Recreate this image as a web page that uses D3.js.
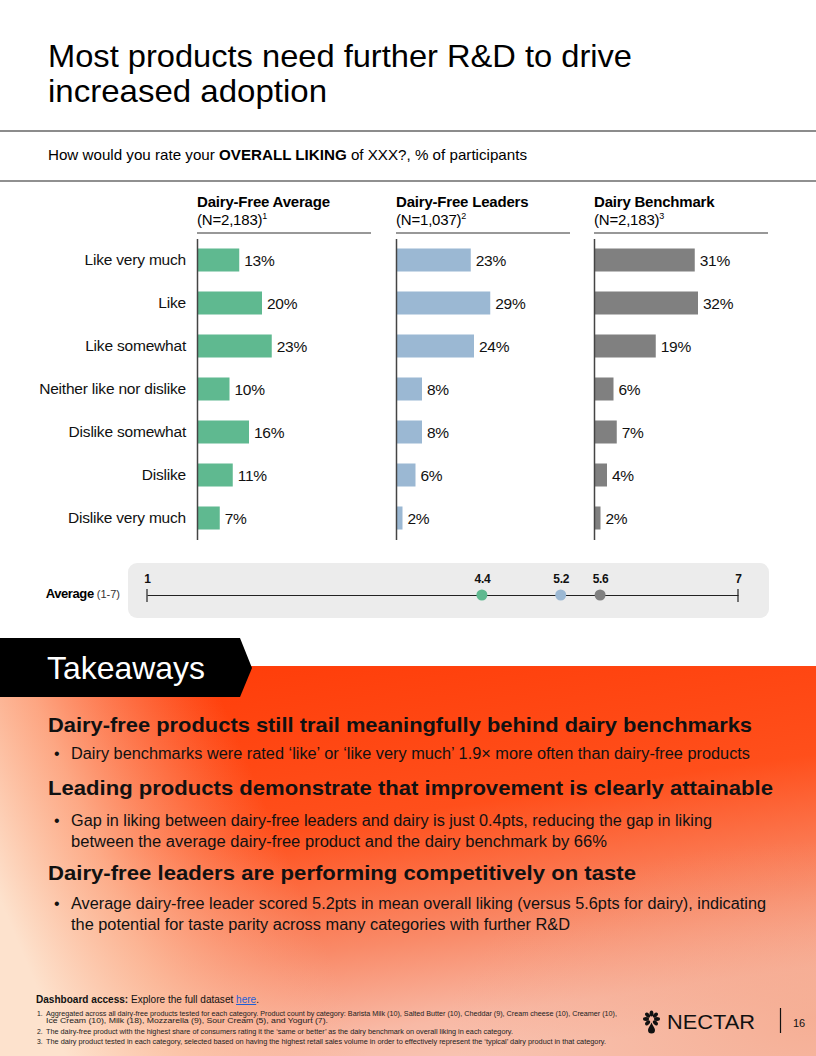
<!DOCTYPE html>
<html>
<head>
<meta charset="utf-8">
<script src="https://cdn.jsdelivr.net/npm/d3@7"></script>
<style>
  body { margin: 0; background: #fff; }
  text { font-family: "Liberation Sans", Arial, sans-serif; }
</style>
</head>
<body>
<div id="vizArea"></div>
<script>
// data
const categories = ["Like very much", "Like", "Like somewhat", "Neither like nor dislike", "Dislike somewhat", "Dislike", "Dislike very much"];
const dairyFreeAverage = [13, 20, 23, 10, 16, 11, 7];
const dairyFreeLeaders = [23, 29, 24, 8, 8, 6, 2];
const dairyBenchmark = [31, 32, 19, 6, 7, 4, 2];
const panelNames = ["Dairy-Free Average", "Dairy-Free Leaders", "Dairy Benchmark"];
const panelSizes = ["(N=2,183)", "(N=1,037)", "(N=2,183)"];
const panelNotes = ["1", "2", "3"];
const averageScores = [4.4, 5.2, 5.6];
const scaleEnds = [1, 7];

const takeaways = [
  { head: "Dairy-free products still trail meaningfully behind dairy benchmarks",
    lines: ["Dairy benchmarks were rated \u2018like\u2019 or \u2018like very much\u2019 1.9\u00d7 more often than dairy-free products"] },
  { head: "Leading products demonstrate that improvement is clearly attainable",
    lines: ["Gap in liking between dairy-free leaders and dairy is just 0.4pts, reducing the gap in liking",
            "between the average dairy-free product and the dairy benchmark by 66%"] },
  { head: "Dairy-free leaders are performing competitively on taste",
    lines: ["Average dairy-free leader scored 5.2pts in mean overall liking (versus 5.6pts for dairy), indicating",
            "the potential for taste parity across many categories with further R&D"] }
];
const footnotes = [
  ["1.", "Aggregated across all dairy-free products tested for each category. Product count by category: Barista Milk (10), Salted Butter (10), Cheddar (9), Cream cheese (10), Creamer (10),"],
  ["", "Ice Cream (10), Milk (18), Mozzarella (9), Sour Cream (5), and Yogurt (7)."],
  ["2.", "The dairy-free product with the highest share of consumers rating it the \u2018same or better\u2019 as the dairy benchmark on overall liking in each category."],
  ["3.", "The dairy product tested in each category, selected based on having the highest retail sales volume in order to effectively represent the \u2018typical\u2019 dairy product in that category."]
];

const width = 816, height = 1056;
const colors = ["#5fb990", "#9bb8d3", "#808080"];
const panelX = [197, 396, 594];

const svg = d3.select("#vizArea")
  .append("svg")
  .attr("width", width)
  .attr("height", height);

// background gradients for the takeaways block
const defs = svg.append("defs");
const vert = defs.append("linearGradient")
  .attr("id", "vert")
  .attr("x1", 0.3).attr("y1", 0).attr("x2", 0.6).attr("y2", 1);
[["0", "#ff3e0a"], ["0.4", "#ff4f1b"], ["0.7", "#f98a68"], ["0.9", "#f8b9a5"], ["1", "#f8c4b2"]]
  .forEach(s => vert.append("stop").attr("offset", s[0]).attr("stop-color", s[1]));
const side = defs.append("linearGradient")
  .attr("id", "side")
  .attr("x1", 0).attr("y1", 0.6).attr("x2", 1).attr("y2", 0.4);
side.append("stop").attr("offset", 0).attr("stop-color", "#fde2cd").attr("stop-opacity", 1);
side.append("stop").attr("offset", 0.14).attr("stop-color", "#fcc8aa").attr("stop-opacity", 0.75);
side.append("stop").attr("offset", 0.36).attr("stop-color", "#fcb093").attr("stop-opacity", 0);
side.append("stop").attr("offset", 1).attr("stop-color", "#fcb093").attr("stop-opacity", 0);
const corner = defs.append("radialGradient")
  .attr("id", "corner").attr("cx", 1).attr("cy", 0.9).attr("r", 0.45);
corner.append("stop").attr("offset", 0).attr("stop-color", "#f4a081").attr("stop-opacity", 0.6);
corner.append("stop").attr("offset", 1).attr("stop-color", "#f4a081").attr("stop-opacity", 0);

// title
const title = svg.append("g");
title.append("text").attr("x", 48).attr("y", 67)
  .attr("font-size", 32).attr("textLength", 584).attr("lengthAdjust", "spacingAndGlyphs")
  .text("Most products need further R&D to drive");
title.append("text").attr("x", 48).attr("y", 102)
  .attr("font-size", 32).attr("textLength", 279).attr("lengthAdjust", "spacingAndGlyphs")
  .text("increased adoption");

svg.append("line").attr("x1", 0).attr("x2", width).attr("y1", 131).attr("y2", 131)
  .attr("stroke", "#8c8c8c").attr("stroke-width", 2);

const sub = svg.append("text").attr("x", 48).attr("y", 160).attr("font-size", 15)
  .attr("textLength", 479).attr("lengthAdjust", "spacingAndGlyphs");
sub.append("tspan").text("How would you rate your ");
sub.append("tspan").attr("font-weight", "bold").text("OVERALL LIKING");
sub.append("tspan").text(" of XXX?, % of participants");

svg.append("line").attr("x1", 0).attr("x2", width).attr("y1", 181).attr("y2", 181)
  .attr("stroke", "#222").attr("stroke-width", 1.2);

// bar panels
const y = d3.scaleBand()
  .domain(categories)
  .range([238.5, 539.5])
  .paddingInner(0.465)
  .paddingOuter(0.2325);

const x = d3.scaleLinear()
  .domain([0, 100])
  .range([0, 325]);

const panels = panelNames.map((name, i) => ({
  name: name,
  size: panelSizes[i],
  note: panelNotes[i],
  values: [dairyFreeAverage, dairyFreeLeaders, dairyBenchmark][i],
  color: colors[i],
  x0: panelX[i]
}));

panels.forEach((p, i) => {
  const g = svg.append("g").attr("transform", `translate(${p.x0},0)`);

  g.append("text").attr("x", 0).attr("y", 207)
    .attr("font-size", 15).attr("font-weight", "bold").attr("letter-spacing", -0.2)
    .text(p.name);
  const n = g.append("text").attr("x", 0).attr("y", 225).attr("font-size", 15).attr("letter-spacing", -0.2);
  n.append("tspan").text(p.size);
  n.append("tspan").attr("font-size", 9).attr("dy", -6).text(p.note);
  g.append("line").attr("x1", 0).attr("x2", 174).attr("y1", 233).attr("y2", 233)
    .attr("stroke", "#333").attr("stroke-width", 1.2);

  g.selectAll("rect")
    .data(p.values)
    .join("rect")
    .attr("x", 0)
    .attr("y", (d, j) => y(categories[j]))
    .attr("width", d => x(d))
    .attr("height", y.bandwidth())
    .attr("fill", p.color);

  g.selectAll("text.val")
    .data(p.values)
    .join("text")
    .attr("class", "val")
    .attr("x", d => x(d) + 5)
    .attr("y", (d, j) => y(categories[j]) + y.bandwidth() / 2 + 5.5)
    .attr("font-size", 15.5)
    .attr("letter-spacing", -0.3)
    .attr("fill", "#111")
    .text(d => d + "%");

  // category axis (labels only on the first panel)
  const axis = d3.axisLeft(y).tickSize(0).tickSizeOuter(0).tickPadding(11);
  if (i > 0) axis.tickFormat("");
  const ax = g.append("g").call(axis);
  ax.select(".domain").attr("stroke", "#444").attr("stroke-width", 1.5);
  ax.selectAll("text")
    .attr("font-size", 15.5)
    .attr("font-family", "Liberation Sans, Arial, sans-serif")
    .attr("fill", "#111")
    .attr("letter-spacing", -0.2);
});

// average strip
svg.append("rect").attr("x", 128).attr("y", 563).attr("width", 641).attr("height", 55)
  .attr("rx", 9).attr("fill", "#ececec");

const avgLabel = svg.append("text").attr("x", 120).attr("y", 598).attr("text-anchor", "end");
avgLabel.append("tspan").attr("font-size", 13).attr("font-weight", "bold").attr("letter-spacing", -0.4).text("Average");
avgLabel.append("tspan").attr("font-size", 11).attr("fill", "#333").text(" (1-7)");

const xAvg = d3.scaleLinear()
  .domain(scaleEnds)
  .range([147, 738]);

const avgAxis = svg.append("g")
  .attr("transform", "translate(0,595)")
  .call(d3.axisTop(xAvg)
    .tickValues(scaleEnds.concat(averageScores))
    .tickSize(0)
    .tickSizeOuter(0)
    .tickPadding(12)
    .tickFormat(d => d));
avgAxis.select(".domain").attr("stroke", "#222").attr("stroke-width", 1.2);
avgAxis.selectAll("text")
  .attr("font-size", 12)
  .attr("font-weight", "bold")
  .attr("font-family", "Liberation Sans, Arial, sans-serif")
  .attr("fill", "#111")
  .attr("letter-spacing", -0.3);

svg.selectAll("line.endTick")
  .data(scaleEnds)
  .join("line")
  .attr("class", "endTick")
  .attr("x1", d => xAvg(d)).attr("x2", d => xAvg(d))
  .attr("y1", 589).attr("y2", 602)
  .attr("stroke", "#222").attr("stroke-width", 1.2);

svg.selectAll("circle.avg")
  .data(averageScores)
  .join("circle")
  .attr("class", "avg")
  .attr("cx", d => xAvg(d))
  .attr("cy", 595)
  .attr("r", 5.5)
  .attr("fill", (d, i) => colors[i]);

// takeaways
["vert", "side", "corner"].forEach(id => {
  svg.append("rect").attr("x", 0).attr("y", 666).attr("width", width).attr("height", height - 666)
    .attr("fill", `url(#${id})`);
});

svg.append("path")
  .attr("d", "M0,638H240L252,668L240,697H0Z")
  .attr("fill", "#000");
svg.append("text").attr("x", 47).attr("y", 679)
  .attr("font-size", 32).attr("fill", "#fff")
  .attr("textLength", 158).attr("lengthAdjust", "spacingAndGlyphs")
  .text("Takeaways");

const headY = [732, 795, 880];
const lineY = [[759], [826, 847], [909, 930]];
const headW = [704, 725, 588];
const lineW = [[679], [641, 536], [695, 499]];

takeaways.forEach((t, i) => {
  svg.append("text").attr("x", 48).attr("y", headY[i])
    .attr("font-size", 21).attr("font-weight", "bold").attr("fill", "#111")
    .attr("textLength", headW[i]).attr("lengthAdjust", "spacingAndGlyphs")
    .text(t.head);
  svg.append("text").attr("x", 54).attr("y", lineY[i][0])
    .attr("font-size", 16).attr("fill", "#111").text("\u2022");
  t.lines.forEach((l, j) => {
    svg.append("text").attr("x", 71).attr("y", lineY[i][j])
      .attr("font-size", 16).attr("fill", "#111")
      .attr("textLength", lineW[i][j]).attr("lengthAdjust", "spacingAndGlyphs")
      .text(l);
  });
});

// footer
const dash = svg.append("text").attr("x", 36).attr("y", 1003).attr("font-size", 10).attr("fill", "#111")
  .attr("textLength", 223).attr("lengthAdjust", "spacingAndGlyphs");
dash.append("tspan").attr("font-weight", "bold").text("Dashboard access:");
dash.append("tspan").text(" Explore the full dataset ");
dash.append("tspan").attr("fill", "#1f5fd6").attr("text-decoration", "underline").text("here");
dash.append("tspan").text(".");

const noteY = [1016, 1023, 1034, 1044];
const noteW = [571, 282, 467, 560];
footnotes.forEach((f, i) => {
  svg.append("text").attr("x", 37).attr("y", noteY[i]).attr("font-size", 6.8).attr("fill", "#222").text(f[0]);
  svg.append("text").attr("x", 46).attr("y", noteY[i]).attr("font-size", 6.8).attr("fill", "#222")
    .attr("textLength", noteW[i]).attr("lengthAdjust", "spacingAndGlyphs")
    .text(f[1]);
});

// logo
const logo = svg.append("g").attr("transform", "translate(651.5,1019)");
d3.range(8).filter(k => k !== 4).forEach(k => {
  logo.append("ellipse")
    .attr("cx", 0).attr("cy", -5.5)
    .attr("rx", 1.9).attr("ry", 3)
    .attr("transform", `rotate(${k * 45})`)
    .attr("fill", "#111");
});
logo.append("path")
  .attr("d", "M0,3.5 C1.2,7 3.5,9 3.5,11 A3.5,3.5 0 1 1 -3.5,11 C-3.5,9 -1.2,7 0,3.5Z")
  .attr("fill", "#111");
svg.append("text").attr("x", 667).attr("y", 1029)
  .attr("font-size", 21).attr("fill", "#111")
  .attr("textLength", 88).attr("lengthAdjust", "spacingAndGlyphs")
  .text("NECTAR");
svg.append("line").attr("x1", 780.5).attr("x2", 780.5).attr("y1", 1008).attr("y2", 1033)
  .attr("stroke", "#111").attr("stroke-width", 1.2);
svg.append("text").attr("x", 793).attr("y", 1027).attr("font-size", 11).attr("fill", "#111").text("16");
</script>
</body>
</html>
